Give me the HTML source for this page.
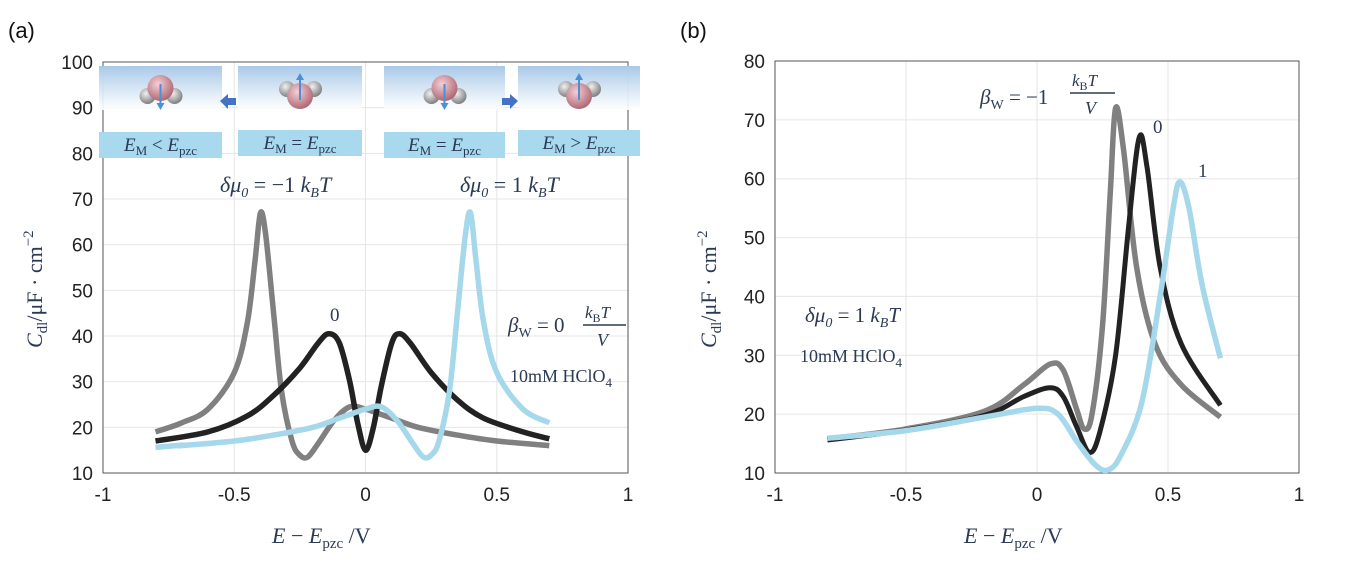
<!DOCTYPE html>
<html><head><meta charset="utf-8"><style>
body{margin:0;background:#fff;}
svg{display:block;font-family:"Liberation Sans",sans-serif;}
.t{font-size:19px;fill:#222;}
.m{font-family:"Liberation Serif","DejaVu Serif",serif;fill:#2b3a55;}
</style></head><body>
<svg id="s" width="1365" height="562" viewBox="0 0 1365 562">
<text x="8" y="38" font-size="22" fill="#111">(a)</text>
<text x="680" y="38" font-size="22" fill="#111">(b)</text>
<g id="ga"></g><g id="gb"></g>
<defs><linearGradient id="gr" x1="0" y1="0" x2="0" y2="1"><stop offset="0" stop-color="#a9c9e8"/><stop offset="1" stop-color="#ffffff" stop-opacity="0.9"/></linearGradient>
<radialGradient id="ox" cx="0.4" cy="0.35" r="0.7"><stop offset="0" stop-color="#f6cfd6"/><stop offset="1" stop-color="#a8626e"/></radialGradient>
<radialGradient id="hy" cx="0.4" cy="0.35" r="0.7"><stop offset="0" stop-color="#f0f0f0"/><stop offset="1" stop-color="#777"/></radialGradient></defs>
<g id="ins"></g>
<text x="220" y="192" font-size="22" class="m" font-style="italic">δμ<tspan font-size="14" dy="5">0</tspan><tspan dy="-5" font-style="normal"> = −1</tspan><tspan> k</tspan><tspan font-size="14" dy="5">B</tspan><tspan dy="-5">T</tspan></text>
<text x="460" y="192" font-size="22" class="m" font-style="italic">δμ<tspan font-size="14" dy="5">0</tspan><tspan dy="-5" font-style="normal"> = 1</tspan><tspan> k</tspan><tspan font-size="14" dy="5">B</tspan><tspan dy="-5">T</tspan></text>
<text x="330" y="321" font-size="19" class="m">0</text>
<text x="508" y="332" font-size="21" class="m"><tspan font-style="italic">β</tspan><tspan font-size="14" dy="5">W</tspan><tspan dy="-5"> = 0</tspan></text>
<text x="585" y="318" font-size="17" class="m" font-style="italic">k<tspan font-size="12" dy="4" font-style="normal">B</tspan><tspan dy="-4">T</tspan></text>
<line x1="583" y1="325" x2="626" y2="325" stroke="#2b3a55" stroke-width="1.5"/>
<text x="597" y="346" font-size="18" class="m" font-style="italic">V</text>
<text x="510" y="382" font-size="18" class="m">10mM HClO<tspan font-size="13" dy="5">4</tspan></text>
<text x="805" y="322" font-size="21" class="m" font-style="italic">δμ<tspan font-size="14" dy="5">0</tspan><tspan dy="-5" font-style="normal"> = 1 </tspan>k<tspan font-size="14" dy="5">B</tspan><tspan dy="-5">T</tspan></text>
<text x="800" y="362" font-size="18" class="m">10mM HClO<tspan font-size="13" dy="5">4</tspan></text>
<text x="980" y="104" font-size="21" class="m"><tspan font-style="italic">β</tspan><tspan font-size="14" dy="5">W</tspan><tspan dy="-5"> = −1</tspan></text>
<text x="1072" y="86" font-size="17" class="m" font-style="italic">k<tspan font-size="12" dy="4" font-style="normal">B</tspan><tspan dy="-4">T</tspan></text>
<line x1="1070" y1="93" x2="1115" y2="93" stroke="#2b3a55" stroke-width="1.5"/>
<text x="1085" y="114" font-size="18" class="m" font-style="italic">V</text>
<text x="1153" y="133" font-size="19" class="m">0</text>
<text x="1198" y="177" font-size="19" class="m">1</text>
<text x="272" y="543" font-size="22" class="m"><tspan font-style="italic">E</tspan> − <tspan font-style="italic">E</tspan><tspan font-size="15" dy="5">pzc</tspan><tspan dy="-5"> /V</tspan></text>
<text x="964" y="543" font-size="22" class="m"><tspan font-style="italic">E</tspan> − <tspan font-style="italic">E</tspan><tspan font-size="15" dy="5">pzc</tspan><tspan dy="-5"> /V</tspan></text>
<text transform="translate(42,348) rotate(-90)" font-size="22" class="m"><tspan font-style="italic">C</tspan><tspan font-size="15" dy="5">dl</tspan><tspan dy="-5">/μF · cm</tspan><tspan font-size="15" dy="-9">−2</tspan></text>
<text transform="translate(716,348) rotate(-90)" font-size="22" class="m"><tspan font-style="italic">C</tspan><tspan font-size="15" dy="5">dl</tspan><tspan dy="-5">/μF · cm</tspan><tspan font-size="15" dy="-9">−2</tspan></text>
</svg>
<script>
const NS="http://www.w3.org/2000/svg";
function el(p,t,a,txt){const e=document.createElementNS(NS,t);for(const k in a)e.setAttribute(k,a[k]);if(txt!==undefined)e.textContent=txt;p.appendChild(e);return e;}
function cr(pts){let d="M"+pts[0][0].toFixed(1)+","+pts[0][1].toFixed(1);for(let i=0;i<pts.length-1;i++){const p0=pts[Math.max(0,i-1)],p1=pts[i],p2=pts[i+1],p3=pts[Math.min(pts.length-1,i+2)];const c1=[p1[0]+(p2[0]-p0[0])/6,p1[1]+(p2[1]-p0[1])/6],c2=[p2[0]-(p3[0]-p1[0])/6,p2[1]-(p3[1]-p1[1])/6];d+=" C"+c1.map(v=>v.toFixed(1))+" "+c2.map(v=>v.toFixed(1))+" "+p2[0].toFixed(1)+","+p2[1].toFixed(1);}return d;}
function panel(g,L,R,T,B,ymin,ymax,ystep,series){
 const gg=document.getElementById(g);
 const X=x=>L+(x+1)/2*(R-L),Y=v=>B-(v-ymin)/(ymax-ymin)*(B-T);
 el(gg,"rect",{x:L,y:T,width:R-L,height:B-T,fill:"#fff"});
 for(let x=-1;x<=1.001;x+=0.5){const px=X(x);el(gg,"line",{x1:px,y1:T,x2:px,y2:B,stroke:"#e6e6e6","stroke-width":1});
  el(gg,"text",{x:px,y:B+28,"text-anchor":"middle",class:"t"},x===0?"0":String(x));}
 for(let v=ymin;v<=ymax;v+=ystep){const py=Y(v);el(gg,"line",{x1:L,y1:py,x2:R,y2:py,stroke:"#e6e6e6","stroke-width":1});
  el(gg,"text",{x:L-10,y:py+7,"text-anchor":"end",class:"t"},String(v));}
 el(gg,"rect",{x:L,y:T,width:R-L,height:B-T,fill:"none",stroke:"#555","stroke-width":1});
 for(const s of series){el(gg,"path",{d:cr(s.p.map(q=>[X(q[0]),Y(q[1])])),fill:"none",stroke:s.c,"stroke-width":s.w||5.5,"stroke-linecap":"butt","stroke-linejoin":"round"});}
}
const grayA=[[-0.8,19],[-0.7,21],[-0.6,24],[-0.5,32],[-0.45,43],[-0.42,57],[-0.40,67],[-0.38,62],[-0.35,45],[-0.32,28],[-0.28,17],[-0.25,13.9],[-0.22,13.5],[-0.18,16.5],[-0.12,21.5],[-0.06,24.5],[0,24],[0.1,22],[0.2,20],[0.35,18.3],[0.5,17],[0.7,16]];
const blueA=[[-0.8,15.6]].concat(grayA.slice().reverse().map(q=>[-q[0],q[1]]).filter(q=>q[0]>-0.75));
blueA.splice(1,0,[-0.7,16.1]);
const blackA=[[-0.8,17],[-0.6,19],[-0.45,22.5],[-0.35,27],[-0.25,33],[-0.18,38.5],[-0.14,40.5],[-0.1,38.5],[-0.06,30],[-0.03,21],[0,15],[0.03,20],[0.06,29],[0.1,38.5],[0.13,40.5],[0.17,38.5],[0.25,32],[0.35,26],[0.45,22],[0.6,19],[0.7,17.5]];
panel("ga",103,628,62,473,10,100,10,[{p:grayA,c:"#808080"},{p:blackA,c:"#222"},{p:blueA.filter(q=>q[0]<=0.71),c:"#a6d8ec"}]);
const grayB=[[-0.8,15.8],[-0.5,17.5],[-0.2,20.5],[-0.05,25],[0.05,28.5],[0.1,27.5],[0.15,21],[0.18,17.5],[0.21,20],[0.25,35],[0.28,58],[0.3,72],[0.33,65],[0.38,45],[0.45,32],[0.55,25],[0.7,19.5]];
const blackB=[[-0.8,15.6],[-0.5,17.3],[-0.2,19.8],[-0.05,23],[0.05,24.5],[0.1,23],[0.15,18],[0.2,13.5],[0.24,17],[0.3,30],[0.35,52],[0.39,67],[0.42,62],[0.47,45],[0.55,32],[0.7,21.5]];
const blueB=[[-0.8,15.9],[-0.5,17.2],[-0.2,19.5],[0,21],[0.08,20],[0.15,15.5],[0.22,11.5],[0.27,10.5],[0.32,13],[0.4,22],[0.47,40],[0.52,55],[0.545,59.5],[0.58,55],[0.63,42],[0.7,29.5]];
panel("gb",775,1299,61,473,10,80,10,[{p:grayB,c:"#808080"},{p:blackB,c:"#222",w:5},{p:blueB,c:"#a6d8ec"}]);
const ins=document.getElementById("ins");
const boxes=[[99,222,132,true,"<"],[238,362,130,false,"="],[384,505,132,true,"="],[518,640,130,false,">"]];
for(const [a,b,ly,down,op] of boxes){
 el(ins,"rect",{x:a,y:66,width:b-a,height:44,fill:"url(#gr)"});
 const cx=(a+b)/2,cy=92;
 if(down){el(ins,"circle",{cx:cx-13,cy:cy+4,r:8,fill:"url(#hy)"});el(ins,"circle",{cx:cx+14,cy:cy+4,r:8,fill:"url(#hy)"});el(ins,"circle",{cx:cx,cy:cy-4,r:13,fill:"url(#ox)"});
  el(ins,"line",{x1:cx,y1:cy-8,x2:cx,y2:cy+14,stroke:"#4a90d9","stroke-width":2});el(ins,"path",{d:`M${cx-4},${cy+11} L${cx+4},${cy+11} L${cx},${cy+18}Z`,fill:"#4a90d9"});}
 else{el(ins,"circle",{cx:cx-13,cy:cy-3,r:8,fill:"url(#hy)"});el(ins,"circle",{cx:cx+14,cy:cy-3,r:8,fill:"url(#hy)"});el(ins,"circle",{cx:cx,cy:cy+4,r:13,fill:"url(#ox)"});
  el(ins,"line",{x1:cx,y1:cy+8,x2:cx,y2:cy-14,stroke:"#4a90d9","stroke-width":2});el(ins,"path",{d:`M${cx-4},${cy-12} L${cx+4},${cy-12} L${cx},${cy-19}Z`,fill:"#4a90d9"});}
 el(ins,"rect",{x:a,y:ly,width:b-a,height:26,fill:"#a8d9ee"});
 const t=el(ins,"text",{x:cx,y:ly+19,"text-anchor":"middle","font-size":"19",class:"m"});
 t.innerHTML=`<tspan font-style="italic">E</tspan><tspan font-size="13" dy="4">M</tspan><tspan dy="-4"> ${op} </tspan><tspan font-style="italic">E</tspan><tspan font-size="13" dy="4">pzc</tspan>`;
}
el(ins,"path",{d:"M220,101 L228,94 L228,98 L236,98 L236,105 L228,105 L228,109Z",fill:"#4472c4"});
el(ins,"path",{d:"M518,101 L510,94 L510,98 L502,98 L502,105 L510,105 L510,109Z",fill:"#4472c4"});
</script>
</body></html>
